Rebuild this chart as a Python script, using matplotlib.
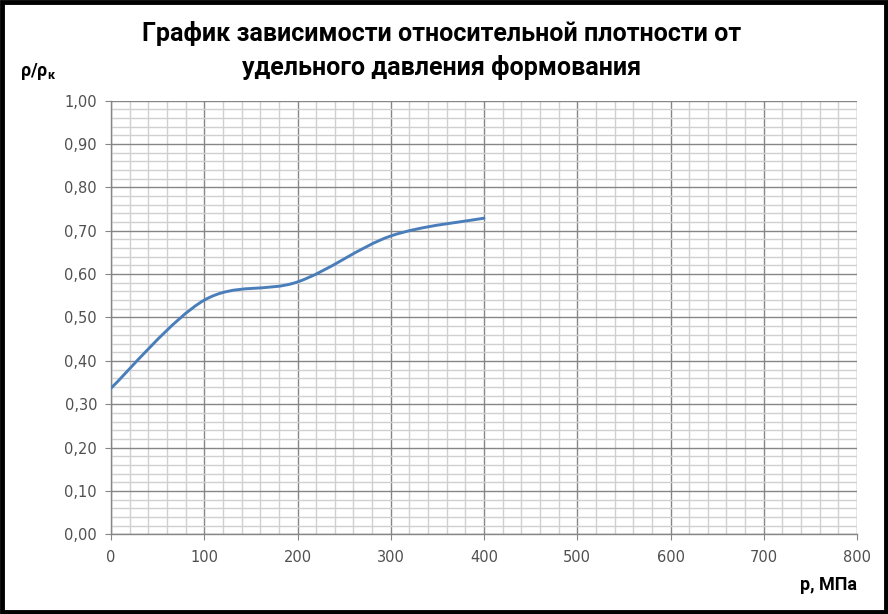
import matplotlib
matplotlib.use("Agg")
import matplotlib.pyplot as plt
from matplotlib.path import Path
from matplotlib.patches import PathPatch, Rectangle
from matplotlib.ticker import MultipleLocator, FuncFormatter

# Data
pressure = [0, 100, 200, 300, 400]
rel_density = [0.337, 0.540, 0.582, 0.688, 0.729]

title_text = "График зависимости относительной плотности от\nудельного давления формования"
x_label = "p, МПа"
y_label = "ρ/ρ$_\\mathregular{к}$"

fig = plt.figure(figsize=(8.88, 6.14), dpi=100)
W, H = 888, 614
ax = fig.add_axes([111 / W, 1 - 534.3 / H, (857 - 111) / W, (534.3 - 100.7) / H])

ax.set_xlim(0, 800)
ax.set_ylim(0, 1.0)
ax.xaxis.set_major_locator(MultipleLocator(100))
ax.xaxis.set_minor_locator(MultipleLocator(20))
ax.yaxis.set_major_locator(MultipleLocator(0.1))
ax.yaxis.set_minor_locator(MultipleLocator(0.02))
ax.yaxis.set_major_formatter(FuncFormatter(lambda v, p: f"{v:.2f}".replace(".", ",")))
ax.xaxis.set_major_formatter(FuncFormatter(lambda v, p: f"{int(round(v))}"))

ax.grid(which="minor", color="#d0d0d0", linewidth=1.0)
ax.grid(which="major", color="#868686", linewidth=1.0)
ax.set_axisbelow(True)
for s in ["top", "right"]:
    ax.spines[s].set_visible(False)
for s in ["left", "bottom"]:
    ax.spines[s].set_color("#868686")
    ax.spines[s].set_linewidth(1.0)
ax.tick_params(which="major", length=4, color="#868686", labelsize=10.5,
               labelcolor="#505050", direction="out")
ax.tick_params(which="minor", length=0)
ax.tick_params(axis="x", pad=7)
ax.tick_params(axis="y", pad=6)

# Smoothed line (Catmull-Rom as Bezier, like Excel smoothing)
pts = list(zip(pressure, rel_density))
n = len(pts)
verts = [pts[0]]
codes = [Path.MOVETO]
for i in range(n - 1):
    p0 = pts[max(i - 1, 0)]
    p1 = pts[i]
    p2 = pts[i + 1]
    p3 = pts[min(i + 2, n - 1)]
    c1 = (p1[0] + (p2[0] - p0[0]) / 6, p1[1] + (p2[1] - p0[1]) / 6)
    c2 = (p2[0] - (p3[0] - p1[0]) / 6, p2[1] - (p3[1] - p1[1]) / 6)
    verts += [c1, c2, p2]
    codes += [Path.CURVE4] * 3
ax.add_patch(PathPatch(Path(verts, codes), fill=False, edgecolor="#4a7ebb",
                       linewidth=2.1, capstyle="round", zorder=3))

fig.text(442 / W, 1 - 50 / H, title_text, ha="center", va="center",
         fontsize=18, fontweight="bold", family="Roboto", linespacing=1.45,
         color="black")
fig.text(20 / W, 1 - 72 / H, y_label, ha="left", va="center",
         fontsize=13, fontweight="bold", family="Roboto")
fig.text(857 / W, 1 - 585 / H, x_label, ha="right", va="center",
         fontsize=13, fontweight="bold", family="Roboto")

fig.add_artist(Rectangle((2 / W, 2 / H), 1 - 4 / W, 1 - 4 / H,
                         transform=fig.transFigure, fill=False,
                         edgecolor="black", linewidth=3.5))

fig.savefig("out.png", dpi=100)
